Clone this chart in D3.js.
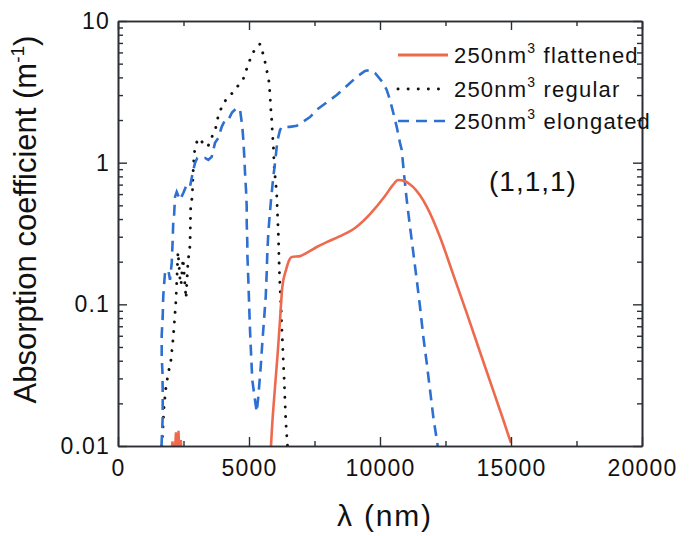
<!DOCTYPE html>
<html>
<head>
<meta charset="utf-8">
<script src="https://cdn.jsdelivr.net/npm/d3@7"></script>
<style>
  html, body { margin: 0; padding: 0; background: #ffffff; }
  svg { display: block; font-family: "Liberation Sans", Arial, Helvetica, sans-serif; }
</style>
</head>
<body>
<svg id="chart" width="693" height="536"></svg>
<script>
// ---------------- data ----------------
const xTicks = [0, 5000, 10000, 15000, 20000];
const xMinorTicks = [2500, 7500, 12500, 17500];
const yTicks = [0.01, 0.1, 1, 10];
const yTickLabels = ["0.01", "0.1", "1", "10"];

// 250nm^3 flattened (solid red)
const flatLambda = [5840, 5867, 5993, 6096, 6184, 6272, 6413, 6539, 6630, 6947, 7203, 7584, 7966, 8473, 9046, 9618, 10191, 10496, 10687, 10954, 11260, 11794, 12290, 12786, 13321, 13817, 14313, 14695, 15000];
const flatValue = [0.01, 0.0124, 0.0261, 0.0454, 0.0776, 0.133, 0.175, 0.206, 0.216, 0.219, 0.231, 0.254, 0.275, 0.303, 0.346, 0.434, 0.582, 0.697, 0.755, 0.74, 0.674, 0.486, 0.299, 0.164, 0.0856, 0.0461, 0.0249, 0.0155, 0.0105];
// small red spikes near the bottom
const flatSpikeLambda = [2000, 2080, 2150, 2210, 2260, 2310, 2350, 2400, 2440];
const flatSpikeValue = [0.008, 0.0108, 0.008, 0.0125, 0.0085, 0.0128, 0.0085, 0.011, 0.008];

// 250nm^3 regular (black dotted)
const regLambda = [1668, 1706, 1756, 1832, 1920, 2023, 2111, 2214, 2290, 2367, 2405, 2481, 2596, 2672, 2748, 2775, 2836, 2851, 2874, 2901, 2939, 3065, 3244, 3424, 3729, 3828, 4019, 4401, 4783, 4935, 5103, 5267, 5420, 5573, 5676, 5764, 5802, 5829, 5867, 5890, 5928, 5966, 6019, 6058, 6096, 6119, 6157, 6184, 6222, 6249, 6287, 6310, 6348, 6375, 6401, 6439, 6470];
const regValue = [0.01, 0.0124, 0.0189, 0.0261, 0.0328, 0.0406, 0.0589, 0.107, 0.234, 0.15, 0.137, 0.21, 0.11, 0.2, 0.26, 0.487, 0.58, 0.71, 0.914, 1.08, 1.29, 1.49, 1.38, 1.29, 1.76, 2.14, 2.64, 3.16, 3.9, 4.73, 5.75, 6.5, 6.88, 5.57, 4.51, 3.71, 3.0, 2.43, 2.0, 1.65, 1.33, 0.887, 0.73, 0.59, 0.394, 0.32, 0.175, 0.133, 0.096, 0.069, 0.05, 0.039, 0.0279, 0.0205, 0.0153, 0.012, 0.01];

// 250nm^3 elongated (blue dashed)
const elongLambda = [1660, 1706, 1706, 1698, 1668, 1668, 1706, 1729, 1794, 1920, 1985, 2050, 2088, 2111, 2137, 2176, 2241, 2309, 2367, 2493, 2622, 2748, 2851, 2939, 3027, 3168, 3321, 3447, 3577, 3702, 3828, 3958, 4084, 4210, 4351, 4531, 4657, 4745, 4783, 4821, 4848, 4886, 4913, 4913, 4936, 4936, 4974, 5012, 5038, 5077, 5126, 5229, 5294, 5355, 5447, 5508, 5573, 5638, 5676, 5699, 5737, 5775, 5840, 5890, 5928, 5993, 6058, 6119, 6184, 6249, 6565, 6821, 7329, 7584, 8092, 8348, 8855, 9111, 9428, 9618, 9809, 10126, 10256, 10382, 10508, 10638, 10764, 10829, 10928, 11020, 11146, 11272, 11402, 11528, 11654, 11783, 11909, 12035, 12203];
const elongValue = [0.01, 0.016, 0.0237, 0.0328, 0.0426, 0.0608, 0.0815, 0.116, 0.167, 0.175, 0.149, 0.196, 0.285, 0.394, 0.41, 0.573, 0.621, 0.58, 0.546, 0.611, 0.697, 0.675, 0.846, 0.995, 1.08, 1.08, 1.08, 1.045, 1.1, 1.38, 1.49, 1.79, 2.0, 2.0, 2.26, 2.43, 2.38, 1.79, 1.45, 1.1, 0.846, 0.642, 0.487, 0.375, 0.271, 0.23, 0.149, 0.0913, 0.066, 0.0454, 0.0292, 0.0211, 0.0174, 0.0222, 0.0361, 0.0535, 0.0776, 0.113, 0.167, 0.231, 0.319, 0.394, 0.546, 0.674, 0.793, 0.995, 1.29, 1.52, 1.70, 1.79, 1.79, 1.82, 2.10, 2.36, 2.77, 3.0, 3.65, 4.03, 4.44, 4.51, 4.3, 3.65, 3.26, 2.77, 2.24, 1.79, 1.38, 1.23, 0.793, 0.546, 0.352, 0.231, 0.149, 0.096, 0.0589, 0.0386, 0.0249, 0.016, 0.01];

const legendLabels = ["250nm", "250nm", "250nm"];
const legendSuffixes = [" flattened", " regular", " elongated"];

// ---------------- drawing ----------------
const svg = d3.select("#chart");
const mLeft = 118, mRight = 642, mTop = 21, mBottom = 446;
const x = d3.scaleLinear().domain([0, 20000]).range([mLeft, mRight]);
const y = d3.scaleLog().domain([0.01, 10]).range([mBottom, mTop]);

const RED = "#ee6a4f", BLUE = "#2e6fd2", AXIS = "#2b2f33";

svg.append("defs").append("clipPath").attr("id", "clip")
  .append("rect").attr("x", mLeft).attr("y", mTop).attr("width", mRight - mLeft).attr("height", mBottom - mTop);

const line = d3.line().x(d => x(d[0])).y(d => y(Math.max(d[1], 0.005)));
const zip = (a, b) => a.map((v, i) => [v, b[i]]);

const plot = svg.append("g").attr("clip-path", "url(#clip)");

plot.append("path").datum(zip(regLambda, regValue))
  .attr("d", line).attr("fill", "none").attr("stroke", "#111")
  .attr("stroke-width", 2.9).attr("stroke-linecap", "round").attr("stroke-dasharray", "0.1,9.5");

plot.append("path").datum(zip(elongLambda, elongValue))
  .attr("d", line).attr("fill", "none").attr("stroke", BLUE)
  .attr("stroke-width", 2.6).attr("stroke-dasharray", "11,7");

plot.append("path").datum(zip(flatLambda, flatValue))
  .attr("d", d3.line().x(d => x(d[0])).y(d => y(d[1])).curve(d3.curveMonotoneX))
  .attr("fill", "none").attr("stroke", RED).attr("stroke-width", 2.6);

plot.append("path").datum(zip(flatSpikeLambda, flatSpikeValue))
  .attr("d", d3.line().x(d => x(d[0])).y(d => y(d[1]))).attr("fill", "none").attr("stroke", RED)
  .attr("stroke-width", 2.4);

// ---------------- axes ----------------
const fs = 23;
function styleAxis(g) {
  g.selectAll(".domain").attr("stroke", AXIS).attr("stroke-width", 1.6);
  g.selectAll(".tick line").attr("stroke", AXIS).attr("stroke-width", 1.4);
  g.selectAll("text").attr("font-size", fs).attr("fill", "#111").attr("letter-spacing", 1.2)
    .attr("font-family", "'Liberation Sans', Arial, sans-serif");
}
const yMinor = [];
[0.01, 0.1, 1].forEach(d => { for (let k = 2; k <= 9; k++) yMinor.push(d * k); });

// bottom
svg.append("g").attr("transform", `translate(0,${mBottom})`)
  .call(d3.axisBottom(x).tickValues(xTicks).tickSize(-9).tickSizeOuter(0).tickPadding(14).tickFormat(d3.format("d")))
  .call(styleAxis);
svg.append("g").attr("transform", `translate(0,${mBottom})`)
  .call(d3.axisBottom(x).tickValues(xMinorTicks).tickSize(-5).tickSizeOuter(0).tickFormat(""))
  .call(styleAxis);
// top
svg.append("g").attr("transform", `translate(0,${mTop})`)
  .call(d3.axisTop(x).tickValues(xTicks).tickSize(-9).tickSizeOuter(0).tickFormat(""))
  .call(styleAxis);
svg.append("g").attr("transform", `translate(0,${mTop})`)
  .call(d3.axisTop(x).tickValues(xMinorTicks).tickSize(-5).tickSizeOuter(0).tickFormat(""))
  .call(styleAxis);
// left
svg.append("g").attr("transform", `translate(${mLeft},0)`)
  .call(d3.axisLeft(y).tickValues(yTicks).tickSize(-9).tickSizeOuter(0).tickPadding(8)
    .tickFormat((d, i) => yTickLabels[i]))
  .call(styleAxis);
svg.append("g").attr("transform", `translate(${mLeft},0)`)
  .call(d3.axisLeft(y).tickValues(yMinor).tickSize(-5).tickSizeOuter(0).tickFormat(""))
  .call(styleAxis);
// right
svg.append("g").attr("transform", `translate(${mRight},0)`)
  .call(d3.axisRight(y).tickValues(yTicks).tickSize(-9).tickSizeOuter(0).tickFormat(""))
  .call(styleAxis);
svg.append("g").attr("transform", `translate(${mRight},0)`)
  .call(d3.axisRight(y).tickValues(yMinor).tickSize(-5).tickSizeOuter(0).tickFormat(""))
  .call(styleAxis);

// axis titles
const yTitle = svg.append("text")
  .attr("transform", `translate(36,${(mTop + mBottom) / 2 - 14}) rotate(-90)`)
  .attr("text-anchor", "middle").attr("font-size", 31).attr("fill", "#111");
yTitle.append("tspan").text("Absorption coefficient (m");
yTitle.append("tspan").attr("font-size", 19).attr("dy", -12).text("-1");
yTitle.append("tspan").attr("dy", 12).text(")");

svg.append("text").attr("x", 385).attr("y", 526).attr("text-anchor", "middle")
  .attr("font-size", 30).attr("letter-spacing", 1.8).attr("fill", "#111").text("λ (nm)");

svg.append("text").attr("x", 489).attr("y", 191).attr("font-size", 28).attr("letter-spacing", 1)
  .attr("fill", "#111").text("(1,1,1)");

// ---------------- legend ----------------
const legY = [55, 89, 121];
const legStyles = [
  { stroke: RED, dash: null, width: 2.8, cap: "butt" },
  { stroke: "#111", dash: "0.1,10", width: 2.9, cap: "round" },
  { stroke: BLUE, dash: "11,7", width: 2.6, cap: "butt" }
];
legY.forEach((ly, i) => {
  const s = legStyles[i];
  svg.append("line").attr("x1", 398).attr("x2", 448).attr("y1", ly).attr("y2", ly)
    .attr("stroke", s.stroke).attr("stroke-width", s.width)
    .attr("stroke-dasharray", s.dash).attr("stroke-linecap", s.cap);
  const t = svg.append("text").attr("x", 454).attr("y", ly + 8).attr("font-size", 22)
    .attr("letter-spacing", 1.2).attr("fill", "#111");
  t.append("tspan").text(legendLabels[i]);
  t.append("tspan").attr("font-size", 14).attr("dy", -10).text("3");
  t.append("tspan").attr("dy", 10).text(legendSuffixes[i]);
});
</script>
</body>
</html>
